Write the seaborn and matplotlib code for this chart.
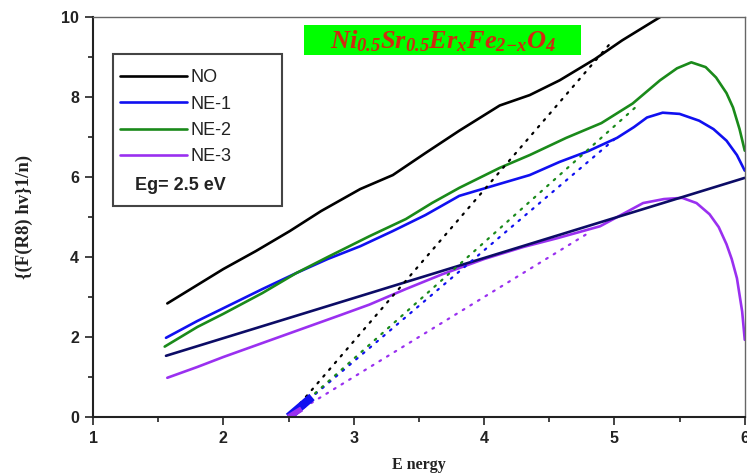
import matplotlib
matplotlib.use("Agg")
import matplotlib.pyplot as plt
import numpy as np
import seaborn as sns
from matplotlib.patches import Rectangle
from matplotlib.ticker import MultipleLocator

# --- data ---
no_x = [1.57, 1.8, 2.0, 2.25, 2.51, 2.75, 3.05, 3.3, 3.55, 3.81, 4.12, 4.35, 4.58, 4.85, 5.06, 5.2, 5.35]
no_y = [2.84, 3.3, 3.7, 4.15, 4.65, 5.15, 5.70, 6.05, 6.6, 7.16, 7.79, 8.05, 8.42, 8.95, 9.42, 9.7, 10.0]

ne1_x = [1.56, 1.8, 2.0, 2.3, 2.56, 2.8, 3.05, 3.3, 3.55, 3.81, 4.12, 4.35, 4.58, 4.8, 5.02, 5.15,
         5.25, 5.37, 5.5, 5.65, 5.76, 5.86, 5.94, 6.0]
ne1_y = [1.98, 2.4, 2.72, 3.2, 3.6, 3.95, 4.27, 4.65, 5.05, 5.53, 5.83, 6.05, 6.38, 6.65, 6.98, 7.25,
         7.49, 7.61, 7.58, 7.41, 7.2, 6.91, 6.55, 6.16]

ne2_x = [1.55, 1.8, 2.0, 2.3, 2.56, 2.8, 3.12, 3.4, 3.6, 3.81, 4.12, 4.35, 4.63, 4.9, 5.14, 5.35,
         5.48, 5.59, 5.7, 5.78, 5.86, 5.91, 5.96, 6.0]
ne2_y = [1.76, 2.25, 2.58, 3.1, 3.6, 4.0, 4.52, 4.95, 5.35, 5.73, 6.23, 6.55, 6.98, 7.35, 7.84, 8.42,
         8.72, 8.87, 8.75, 8.49, 8.1, 7.74, 7.2, 6.66]

ne3_x = [1.57, 1.8, 2.0, 2.3, 2.6, 2.9, 3.12, 3.4, 3.68, 4.0, 4.3, 4.56, 4.89, 5.05, 5.22, 5.38,
         5.52, 5.63, 5.73, 5.8, 5.86, 5.9, 5.94, 5.98, 6.0]
ne3_y = [0.98, 1.25, 1.5, 1.85, 2.2, 2.55, 2.81, 3.2, 3.57, 3.95, 4.25, 4.47, 4.77, 5.05, 5.35, 5.45,
         5.48, 5.35, 5.07, 4.75, 4.32, 3.95, 3.47, 2.64, 1.93]

ref_x = [1.56, 6.0]
ref_y = [1.53, 5.98]

# tangent extrapolations to the energy axis (Eg = 2.5 eV)
eg = 2.5
tan_end_x = [4.97, 5.02, 5.16, 4.8]   # NO, NE-1, NE-2, NE-3
tan_end_y = [9.35, 7.0, 7.74, 4.6]

labels = ["NO", "NE-1", "NE-2", "NE-3"]
colors = ["#000000", "#1010f0", "#1a8a1a", "#9a30f0"]
navy = "#0c0c66"

xticks = [1, 2, 3, 4, 5, 6]
yticks = [0, 2, 4, 6, 8, 10]

sns.set_theme(style="white")
plt.rcParams["font.family"] = ["Liberation Sans", "DejaVu Sans"]
plt.rcParams["mathtext.fontset"] = "custom"
plt.rcParams["mathtext.rm"] = "Liberation Serif:italic:bold"
plt.rcParams["mathtext.it"] = "Liberation Serif:italic:bold"
plt.rcParams["mathtext.bf"] = "Liberation Serif:italic:bold"

fig = plt.figure(figsize=(7.47, 4.76), dpi=100)
ax = fig.add_axes([0.1245, 0.124, 0.8725, 0.84])

series = [(no_x, no_y), (ne1_x, ne1_y), (ne2_x, ne2_y), (ne3_x, ne3_y)]
handles = []
for (xs, ys), lab, c in zip(series, labels, colors):
    sns.lineplot(x=xs, y=ys, ax=ax, color=c, linewidth=1.9, label=lab)
    handles.append(ax.get_lines()[-1])

sns.lineplot(x=ref_x, y=ref_y, ax=ax, color=navy, linewidth=1.9)

for ex, ey, c in zip(tan_end_x, tan_end_y, colors):
    sns.lineplot(x=[eg, ex], y=[0, ey], ax=ax, color=c, linewidth=1.6,
                 linestyle=(0, (0.8, 3.2)), dash_capstyle="round")

# small blob where the blue / violet tangents meet the axis
for k, (w, stop) in zip([1, 3], [(6, 2.68), (4, 2.6)]):
    slope = tan_end_y[k] / (tan_end_x[k] - eg)
    sns.lineplot(x=[eg, stop], y=[0, slope * (stop - eg)], ax=ax, color=colors[k],
                 linewidth=w, solid_capstyle="butt")

ax.set_xlim(1, 6)
ax.set_ylim(0, 10)
ax.set_xticks(xticks)
ax.set_yticks(yticks)
ax.xaxis.set_minor_locator(MultipleLocator(0.5))
ax.yaxis.set_minor_locator(MultipleLocator(1))
ax.tick_params(which="both", direction="out", bottom=True, left=True, top=False, right=False,
               color="#222222", width=1.2)
ax.tick_params(which="major", length=6, pad=4, labelsize=11.5)
ax.tick_params(which="minor", length=3.5)
for t in ax.get_xticklabels() + ax.get_yticklabels():
    t.set_fontweight("bold")
    t.set_color("#222222")

for s in ["left", "bottom"]:
    ax.spines[s].set_color("#222222")
    ax.spines[s].set_linewidth(1.5)
for s in ["top", "right"]:
    ax.spines[s].set_color("#666666")
    ax.spines[s].set_linewidth(1.0)

ax.set_xlabel("E nergy", family="Liberation Serif", fontweight="bold", fontsize=11.5,
              labelpad=8, color="#222222")
ax.set_ylabel("{(F(R8) hv}1/n)", family="Liberation Serif", fontweight="bold", fontsize=13.5,
              labelpad=20, color="#222222")

# legend
leg = ax.legend(handles=handles, labels=labels, loc="upper left", bbox_to_anchor=(0.031, 0.888),
                frameon=False, fontsize=13, handlelength=3.7, handletextpad=0.2,
                labelspacing=0.52, borderaxespad=0)
for t in leg.get_texts():
    t.set_color("#222222")
ax.text(0.064, 0.578, "Eg= 2.5 eV", transform=ax.transAxes, fontsize=13, fontweight="bold",
        va="center", ha="left", color="#222222")
ax.add_patch(Rectangle((0.0306, 0.528), 0.26, 0.379, transform=ax.transAxes, fill=False,
                       edgecolor="#444444", linewidth=1.5, zorder=5))

# compound name on a green band
ax.add_patch(Rectangle((0.324, 0.9045), 0.425, 0.0754, transform=ax.transAxes,
                       facecolor="#00ff00", edgecolor="none", zorder=4))
ax.text(0.537, 0.941, r"$Ni_{0.5}Sr_{0.5}Er_{x}Fe_{2{-}x}O_{4}$", transform=ax.transAxes,
        ha="center", va="center", fontsize=19, color="#d02a10", zorder=6)

fig.savefig("out.png", dpi=100)
